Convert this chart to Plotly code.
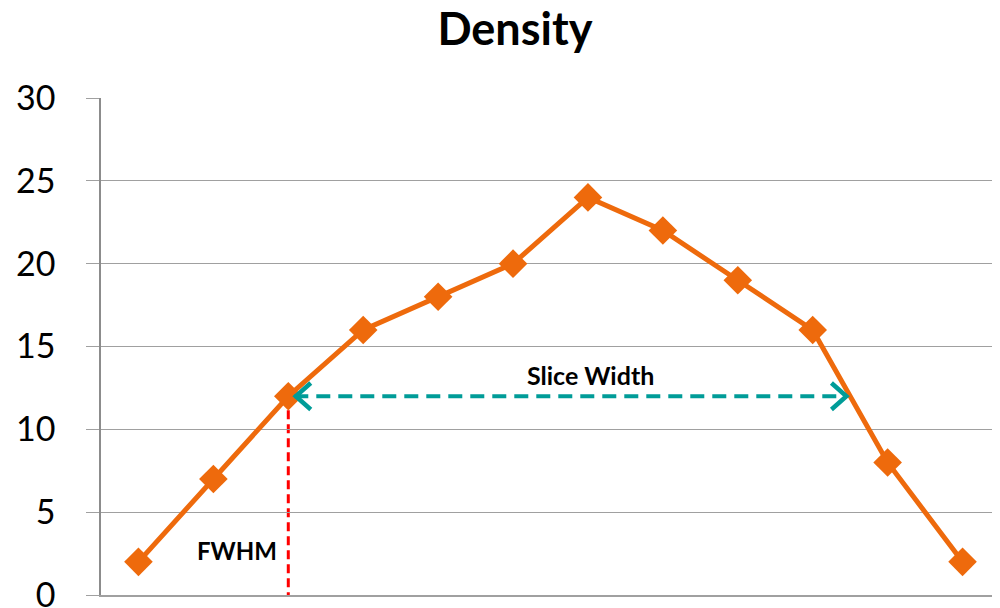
import plotly.graph_objects as go

categories = list(range(1, 13))
density = [2, 7, 12, 16, 18, 20, 24, 22, 19, 16, 8, 2]
y_ticks = [0, 5, 10, 15, 20, 25, 30]

fwhm_x = 3
half_level = 12
slice_end_x = 10.5

orange = "#EE6A0C"
teal = "#009C98"
red = "#FF0000"
font = "Lato"

fig = go.Figure()

# teal dashed slice-width line
fig.add_shape(type="line", xref="x", yref="y", x0=fwhm_x + 0.08, x1=slice_end_x - 0.05,
              y0=half_level, y1=half_level,
              line=dict(color=teal, width=4, dash="14px,8px"), layer="above")
# red dashed FWHM line
fig.add_shape(type="line", xref="x", yref="y", x0=fwhm_x, x1=fwhm_x,
              y0=half_level, y1=-0.3,
              line=dict(color=red, width=3, dash="9px,5px"), layer="below")

fig.add_trace(go.Scatter(
    x=categories, y=density, mode="lines+markers",
    line=dict(color=orange, width=5),
    marker=dict(symbol="diamond", size=22, color=orange),
    cliponaxis=False, showlegend=False, hoverinfo="skip"))

# arrow heads (open chevrons)
hx = 0.2
hy = 0.8
fig.add_trace(go.Scatter(
    x=[fwhm_x + 0.1 + hx, fwhm_x + 0.1, fwhm_x + 0.1 + hx, None,
       slice_end_x - 0.05 - hx, slice_end_x - 0.05, slice_end_x - 0.05 - hx],
    y=[half_level + hy, half_level, half_level - hy, None,
       half_level + hy, half_level, half_level - hy],
    mode="lines", line=dict(color=teal, width=4.5),
    showlegend=False, hoverinfo="skip", cliponaxis=False))

fig.add_annotation(x=7.03, y=13.3, xref="x", yref="y", text="<b>Slice Width</b>",
                   showarrow=False, font=dict(family=font, size=25, color="black"))
fig.add_annotation(x=2.31, y=2.7, xref="x", yref="y", text="<b>FWHM</b>",
                   showarrow=False, font=dict(family=font, size=24, color="black"))

fig.update_layout(
    width=992, height=600,
    margin=dict(l=93, r=0, t=90, b=13, autoexpand=False),
    paper_bgcolor="white", plot_bgcolor="white",
    title=dict(text="<b>Density</b>", x=0.511, xanchor="center", y=1 - 21 / 600, yanchor="middle",
               xref="container", yref="container", font=dict(family=font, size=45, color="black")),
    xaxis=dict(type="linear", range=[0.5, 12.5], showticklabels=False, showgrid=False,
               zeroline=False, showline=True, linecolor="#A0A0A0", linewidth=1.5, ticks="",
               automargin=False),
    yaxis=dict(range=[0, 30], tickvals=y_ticks, showgrid=True, gridcolor="#A0A0A0", gridwidth=1.3,
               zeroline=False, showline=True, linecolor="#8C8C8C", linewidth=1.5,
               ticks="outside", ticklen=13, tickcolor="#A0A0A0", tickwidth=1.3,
               automargin=False, ticklabeloverflow="allow", ticklabelstandoff=24,
               tickfont=dict(family=font, size=34, color="black")),
)

fig.write_html("out.html")
